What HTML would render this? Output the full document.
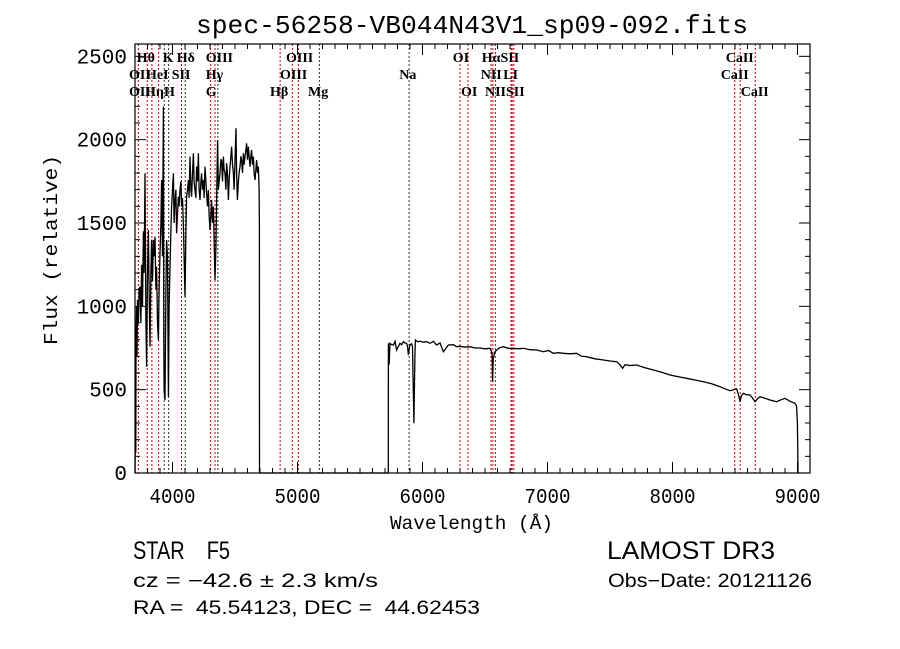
<!DOCTYPE html>
<html><head><meta charset="utf-8"><style>
html,body{margin:0;padding:0;background:#fff}
svg{display:block}
.t{font-family:"Liberation Sans",sans-serif;fill:#000;white-space:pre}
.m{font-family:"Liberation Mono",monospace;fill:#000;white-space:pre}
.l{font-family:"Liberation Serif",serif;font-weight:bold;font-size:14px;fill:#000}
</style></head><body>
<svg id="chart" width="900" height="649" viewBox="0 0 900 649" xmlns="http://www.w3.org/2000/svg">
<rect width="900" height="649" fill="#fff"/>
<text class="m" x="196" y="33" font-size="26" textLength="552" lengthAdjust="spacingAndGlyphs">spec-56258-VB044N43V1_sp09-092.fits</text>
<g id="lines"></g>
<g id="spec"></g>
<g id="axes"></g>
<g id="lbls"></g>
<text class="m" x="390" y="529" font-size="19" textLength="163" lengthAdjust="spacingAndGlyphs">Wavelength (Å)</text>
<text class="m" transform="translate(57,345) rotate(-90)" font-size="19" textLength="190" lengthAdjust="spacingAndGlyphs">Flux (relative)</text>
<text class="t" x="133" y="559" font-size="25" textLength="97" lengthAdjust="spacingAndGlyphs">STAR    F5</text>
<text class="t" x="607" y="559" font-size="25" textLength="168" lengthAdjust="spacingAndGlyphs">LAMOST DR3</text>
<text class="t" x="133" y="587" font-size="19" textLength="245" lengthAdjust="spacingAndGlyphs">cz = −42.6 ± 2.3 km/s</text>
<text class="t" x="608" y="587" font-size="19" textLength="204" lengthAdjust="spacingAndGlyphs">Obs−Date: 20121126</text>
<text class="t" x="133" y="614" font-size="19" textLength="347" lengthAdjust="spacingAndGlyphs">RA =  45.54123, DEC =  44.62453</text>
</svg>
<script>
const wave = [
3700,3703,3706,3708,3712,3716,3720,3727,3733,3740,
3747,3753,3760,3767,3773,3780,3787,3793,3800,3807,
3813,3820,3827,3833,3840,3847,3853,3860,3867,3873,
3880,3887,3893,3900,3907,3913,3920,3927,3930,3933,
3940,3947,3953,3960,3967,3973,3980,3987,3993,4000,
4007,4013,4020,4027,4033,4040,4047,4053,4060,4067,
4073,4080,4087,4093,4100,4107,4113,4120,4127,4133,
4140,4147,4153,4160,4167,4173,4180,4187,4193,4200,
4207,4213,4220,4227,4233,4240,4247,4253,4260,4267,
4273,4280,4287,4293,4300,4307,4313,4320,4327,4333,
4340,4347,4353,4361,4367,4373,4380,4387,4393,4400,
4407,4413,4420,4427,4433,4440,4447,4453,4460,4467,
4473,4480,4487,4493,4500,4508,4513,4519,4527,4533,
4540,4547,4553,4560,4567,4573,4580,4587,4593,4600,
4607,4613,4620,4627,4633,4640,4647,4653,4660,4667,
4673,4680,4687,4693,4695,4696,5720,5726,5727,5733,
5740,5753,5767,5780,5793,5807,5820,5833,5847,5860,
5873,5880,5887,5893,5900,5913,5920,5927,5931,5935,
5939,5943,5960,5980,6007,6033,6060,6087,6113,6140,
6167,6207,6247,6273,6300,6340,6380,6420,6460,6500,
6540,6552,6558,6561,6566,6580,6613,6647,6687,6727,
6767,6807,6860,6913,6967,7007,7047,7087,7127,7180,
7233,7273,7313,7380,7447,7500,7553,7580,7601,7620,
7660,7713,7780,7847,7913,7980,8047,8113,8180,8247,
8313,8380,8420,8460,8490,8513,8528,8540,8553,8567,
8593,8620,8640,8660,8680,8700,8740,8780,8810,8833,
8870,8900,8940,8980,8993,8999,9002,9004];
const flux = [
0,270,120,800,1000,700,1040,900,1100,1118,
900,1250,1000,1450,1200,1798,900,638,1200,1458,
1100,758,1200,1400,1150,1398,1300,1418,1100,1238,
900,798,1100,1318,1500,1758,1300,2198,800,498,
438,1100,1398,1300,458,1000,1238,1450,1598,1700,
1798,1500,1638,1700,1438,1550,1658,1600,1698,1750,
1598,1650,1478,1300,1058,1450,1658,1700,1758,1650,
1898,1700,1658,1800,1918,1750,1698,1650,1838,1750,
1918,1700,1638,1750,1798,1700,1758,1650,1838,1750,
1678,1600,1698,1550,1458,1550,1638,1500,1598,1400,
1158,1350,1638,1998,1700,1750,1798,1880,1878,1750,
1898,1820,1798,1700,1858,1800,1638,1750,1838,1900,
1958,1850,1798,1700,1878,2068,1800,1638,1750,1800,
1838,1900,1878,1800,1918,1850,1898,1940,1978,1880,
1958,1900,1838,1900,1938,1850,1898,1800,1758,1820,
1878,1800,1838,1700,1498,0,0,0,778,650,
778,770,768,790,738,760,778,770,788,780,
778,760,708,740,770,775,760,458,298,500,
700,798,788,790,785,788,778,790,768,780,
728,768,770,758,760,755,758,750,750,745,
748,730,700,548,690,728,750,758,748,748,
745,748,740,738,728,735,718,722,718,715,
718,700,698,685,678,672,668,650,628,650,
645,648,632,618,605,588,578,568,558,548,
535,518,505,494,500,505,470,428,465,478,
470,468,450,428,445,458,448,438,432,428,
440,448,430,418,400,300,118,0];
const lineWave = [3727,3798,3835,3889,3934,3969,4072,4102,4305,4340,4363,4861,4959,5007,5175,5893,6300,6364,6548,6563,6583,6708,6717,6731,8498,8542,8662];
const lineIsAbs = [0,0,0,0,1,1,0,1,0,0,1,0,0,0,1,1,0,0,0,0,1,0,0,0,0,0,0];
const labelText = ["Hθ","K","Hδ","OIII","OIII","OI","HαSII","CaII","OII","HeI","SII","Hγ","OIII","Na","NII","LI","CaII","OII","Hη","H","G","Hβ","Mg","OI","NIISII","CaII"];
const labelWave = [3714,3922,4034,4266,4908,6242,6474,8426,3652,3788,3994,4266,4860,5814,6466,6646,8386,3652,3780,3932,4266,4780,5084,6308,6500,8546];
const labelRow = [0,0,0,0,0,0,0,0,1,1,1,1,1,1,1,1,1,2,2,2,2,2,2,2,2,2];
const xTicks = [4000,5000,6000,7000,8000,9000];
const yTicks = [0,500,1000,1500,2000,2500];

const L=135,R=810,T=44,B=473,X0=3700,X1=9100,Y0=0,Y1=2574;
const sx=w=>L+(w-X0)/(X1-X0)*(R-L);
const sy=f=>B-(f-Y0)/(Y1-Y0)*(B-T);
const NS="http://www.w3.org/2000/svg";
function mk(tag,attrs,parent){const e=document.createElementNS(NS,tag);for(const k in attrs)e.setAttribute(k,attrs[k]);parent.appendChild(e);return e;}

const lg=document.getElementById('lines');
lineWave.forEach((w,i)=>{
  const e=mk('line',{x1:sx(w),x2:sx(w),y1:T,y2:B,stroke:lineIsAbs[i]?'#333':'#c00000','stroke-width':1,'stroke-dasharray':'2,2'},lg);
  
  
});

const sg=document.getElementById('spec');
let d='';
const n=Math.min(wave.length,flux.length);
for(let i=0;i<n;i++){const x=Math.max(L,Math.min(R,sx(wave[i])));d+=(i?'L':'M')+x.toFixed(1)+','+sy(flux[i]).toFixed(1);}
const p=mk('path',{d:d,fill:'none',stroke:'#000','stroke-width':1.3},sg);



const ag=document.getElementById('axes');
const fr=mk('rect',{x:L,y:T,width:R-L,height:B-T,fill:'none',stroke:'#000','stroke-width':1.2},ag);


for(let w=3800;w<=9100;w+=100){
  const maj=w%1000===0,len=maj?11:5;
  mk('line',{x1:sx(w),x2:sx(w),y1:B,y2:B-len,stroke:'#000'},ag);
  mk('line',{x1:sx(w),x2:sx(w),y1:T,y2:T+len,stroke:'#000'},ag);
}
for(let f=100;f<=2500;f+=100){
  const maj=f%500===0,len=maj?11:5;
  mk('line',{x1:L,x2:L+len,y1:sy(f),y2:sy(f),stroke:'#000'},ag);
  mk('line',{x1:R,x2:R-len,y1:sy(f),y2:sy(f),stroke:'#000'},ag);
}
xTicks.forEach(v=>{
  const t=mk('text',{x:sx(v),y:503,'text-anchor':'middle','font-size':21,class:'m',textLength:46,lengthAdjust:'spacingAndGlyphs'},ag);
  t.textContent=v;
  
  
});
yTicks.forEach(v=>{
  const t=mk('text',{x:127,y:sy(v)+7,'text-anchor':'end','font-size':21,class:'m'},ag);
  t.textContent=v;
  
  
});

const bg=document.getElementById('lbls');
const rowY=[62,79,96];
labelText.forEach((s,i)=>{
  const t=mk('text',{x:sx(labelWave[i]),y:rowY[labelRow[i]],class:'l'},bg);
  t.textContent=s;
  
  
});
</script>
</body></html>
